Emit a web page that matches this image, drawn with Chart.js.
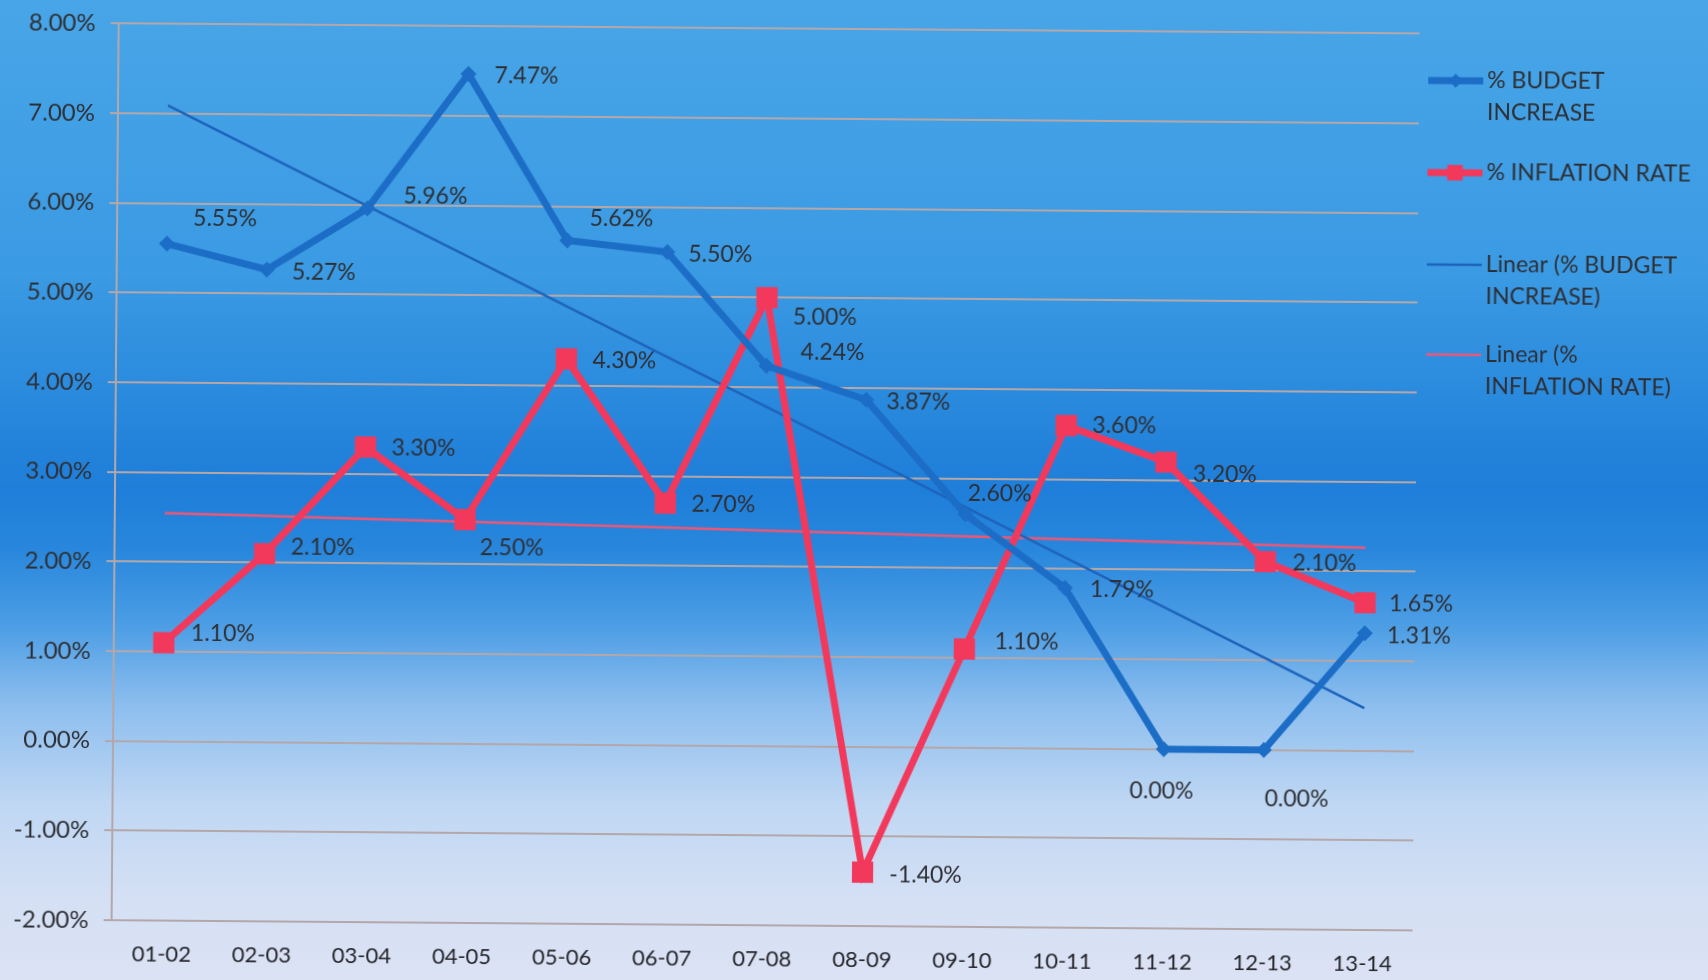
<!DOCTYPE html>
<html>
<head>
<meta charset="utf-8">
<title>% Budget Increase vs % Inflation Rate</title>
<script src="https://cdn.jsdelivr.net/npm/chart.js@4.4.1/dist/chart.umd.min.js"></script>
<style>
  html, body { margin: 0; padding: 0; width: 1708px; height: 980px; overflow: hidden; }
  body {
    background: linear-gradient(to bottom,
      #48a5e7 0%, #3a9ae3 28%, #2585db 44%, #1e7ed9 50%, #2887dc 56%,
      #4d9ee5 64%, #8dbeee 72%, #bfd7f3 82%, #d5e0f4 92%, #dbe2f4 100%);
  }
  #marco { position: absolute; left: 0; top: 0; width: 1708px; height: 980px;
           transform: rotate(0.45deg); transform-origin: 854px 490px; }
</style>
</head>
<body>
<div id="marco"><canvas id="grafico" width="1708" height="980"></canvas></div>
<script>
// Periodos fiscales del eje X
const periodos = ["01-02", "02-03", "03-04", "04-05", "05-06", "06-07", "07-08",
                  "08-09", "09-10", "10-11", "11-12", "12-13", "13-14"];

// % de aumento del presupuesto por periodo
const aumentoPresupuesto = [5.55, 5.27, 5.96, 7.47, 5.62, 5.50, 4.24,
                            3.87, 2.60, 1.79, 0.00, 0.00, 1.31];

// % de inflación por periodo
const tasaInflacion = [1.10, 2.10, 3.30, 2.50, 4.30, 2.70, 5.00,
                       -1.40, 1.10, 3.60, 3.20, 2.10, 1.65];

// Marcas del eje Y (en %)
const ticksY = [-2, -1, 0, 1, 2, 3, 4, 5, 6, 7, 8];

// Textos de la leyenda, ya partidos en renglones
const textoLeyenda = [
  ["% BUDGET", "INCREASE"],
  ["% INFLATION RATE"],
  ["Linear (% BUDGET", "INCREASE)"],
  ["Linear (%", "INFLATION RATE)"]
];

// Desplazamiento [dx, dy] de cada etiqueta respecto a su punto
const despPresupuesto = [[58, -25], [57, 2], [68, -13], [58, 2], [54, -22], [53, 2], [66, -14],
                         [52, 2], [34, -21], [57, 1], [-2, 42], [33, 49], [54, 2]];
const despInflacion = [[59, -9], [58, -7], [58, 1], [47, 28], [58, 1], [58, 1], [58, 19],
                       [63, 2], [62, -7], [58, 0], [59, 12], [59, 1], [56, 1]];

const AZUL = "#1b6dc6";
const ROJO = "#f2385b";
const AZUL_TEND = "#1d63bb";
const ROSA_TEND = "#ea5777";
const GRIS = "#b3a7aa";
const TEXTO = "#2d2f35";

// Recta de mínimos cuadrados, como la "Linear" de la hoja de cálculo
function tendenciaLineal(valores) {
  const n = valores.length;
  let sx = 0, sy = 0, sxy = 0, sxx = 0;
  valores.forEach((y, x) => { sx += x; sy += y; sxy += x * y; sxx += x * x; });
  const m = (n * sxy - sx * sy) / (n * sxx - sx * sx);
  const b = (sy - m * sx) / n;
  return valores.map((_, x) => b + m * x);
}

// Etiquetas con el valor de cada punto
const etiquetasDatos = {
  id: "etiquetasDatos",
  afterDatasetsDraw(chart) {
    const ctx = chart.ctx;
    ctx.save();
    ctx.font = "23px Lato";
    ctx.fillStyle = TEXTO;
    ctx.textAlign = "center";
    ctx.textBaseline = "middle";
    [[0, despPresupuesto], [1, despInflacion]].forEach(([i, desp]) => {
      const meta = chart.getDatasetMeta(i);
      meta.data.forEach((pt, j) => {
        const v = chart.data.datasets[i].data[j];
        ctx.fillText(v.toFixed(2) + "%", pt.x + desp[j][0], pt.y + desp[j][1]);
      });
    });
    ctx.restore();
  }
};

// Leyenda dibujada a mano a la derecha (textos de varios renglones)
const leyendaDerecha = {
  id: "leyendaDerecha",
  afterDraw(chart) {
    const ctx = chart.ctx;
    const filasY = [76, 168, 260, 350];
    const x0 = 1425, x1 = 1480, xt = 1484;
    ctx.save();
    chart.data.datasets.forEach((ds, i) => {
      const y = filasY[i];
      ctx.strokeStyle = ds.borderColor;
      ctx.lineWidth = ds.borderWidth;
      ctx.beginPath();
      ctx.moveTo(x0, y);
      ctx.lineTo(x1, y);
      ctx.stroke();
      if (ds.pointRadius > 0) {
        ctx.fillStyle = ds.borderColor;
        Chart.helpers.drawPoint(ctx, {
          pointStyle: ds.pointStyle,
          radius: ds.pointStyle === "rect" ? 11 : 7,
          borderWidth: 0
        }, (x0 + x1) / 2, y);
      }
      ctx.font = "23px Lato";
      ctx.fillStyle = TEXTO;
      ctx.textAlign = "left";
      ctx.textBaseline = "middle";
      textoLeyenda[i].forEach((linea, k) => ctx.fillText(linea, xt, y + k * 32));
    });
    ctx.restore();
  }
};

const ctx = document.getElementById("grafico").getContext("2d");
new Chart(ctx, {
  type: "line",
  data: {
    labels: periodos,
    datasets: [
      {
        label: "% BUDGET INCREASE",
        data: aumentoPresupuesto,
        borderColor: AZUL,
        backgroundColor: AZUL,
        borderWidth: 7,
        pointStyle: "rectRot",
        pointRadius: 8,
        pointBorderWidth: 0,
        tension: 0,
        order: 0
      },
      {
        label: "% INFLATION RATE",
        data: tasaInflacion,
        borderColor: ROJO,
        backgroundColor: ROJO,
        borderWidth: 7,
        pointStyle: "rect",
        pointRadius: 15,
        pointBorderWidth: 0,
        tension: 0,
        order: 0
      },
      {
        label: "Linear (% BUDGET INCREASE)",
        data: tendenciaLineal(aumentoPresupuesto),
        borderColor: AZUL_TEND,
        borderWidth: 2.5,
        pointRadius: 0,
        order: 1
      },
      {
        label: "Linear (% INFLATION RATE)",
        data: tendenciaLineal(tasaInflacion),
        borderColor: ROSA_TEND,
        borderWidth: 2.5,
        pointRadius: 0,
        order: 1
      }
    ]
  },
  options: {
    responsive: false,
    animation: false,
    devicePixelRatio: 1,
    layout: { padding: { left: 0, right: 292, top: 28, bottom: 0 } },
    plugins: {
      legend: { display: false },
      tooltip: { enabled: false }
    },
    scales: {
      x: {
        offset: true,
        grid: { display: false, drawTicks: false },
        border: { display: false },
        ticks: { color: "#24252b", font: { family: "Lato", size: 22 }, padding: 21, maxRotation: 0 },
        afterFit: (scale) => { scale.height = 54; }
      },
      y: {
        min: -2,
        max: 8,
        afterBuildTicks: (scale) => { scale.ticks = ticksY.map((v) => ({ value: v })); },
        grid: { color: GRIS, lineWidth: 2, tickLength: 8 },
        border: { display: true, color: GRIS, width: 2 },
        ticks: {
          color: TEXTO,
          font: { family: "Lato", size: 24 },
          padding: 15,
          callback: (v) => v.toFixed(2) + "%"
        },
        afterFit: (scale) => { scale.width = 115; }
      }
    }
  },
  plugins: [etiquetasDatos, leyendaDerecha]
});
</script>
</body>
</html>
